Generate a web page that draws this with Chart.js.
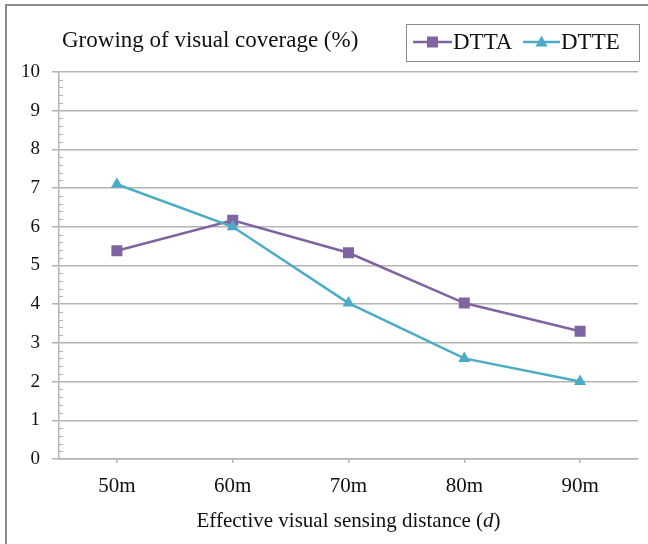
<!DOCTYPE html>
<html>
<head>
<meta charset="utf-8">
<script src="https://cdn.jsdelivr.net/npm/chart.js@4"></script>
<style>
  html, body { margin: 0; padding: 0; background: #ffffff; }
  #wrap { position: relative; width: 648px; height: 544px; overflow: hidden; }
  #chart { position: absolute; left: 0; top: 0; }
  #frame {
    position: absolute; left: 5px; top: 4px; right: -4px; bottom: -4px;
    border-left: 2px solid #8c8c8c; border-top: 2px solid #8c8c8c;
    pointer-events: none;
  }
</style>
</head>
<body>
<div id="wrap">
  <canvas id="chart" width="648" height="544"></canvas>
  <div id="frame"></div>
</div>
<script>
// Distances and coverage growth per method
const distances = ['50m', '60m', '70m', '80m', '90m'];
const dttaGrowth = [5.38, 6.17, 5.33, 4.03, 3.3];
const dtteGrowth = [7.1, 6.0, 4.03, 2.6, 2.0];
const yTicks = [0, 1, 2, 3, 4, 5, 6, 7, 8, 9, 10];

const chartTitle = 'Growing of visual coverage (%)';
// x axis title pieces: the variable name is set in italics
const xTitleParts = [
  { text: 'Effective visual sensing distance (', italic: false },
  { text: 'd', italic: true },
  { text: ')', italic: false }
];

const PURPLE = '#8064a2';
const CYAN = '#4bacc6';
const GRID = '#b4b4b4';
const SERIF = '"Liberation Serif", "Times New Roman", serif';

// Title, legend box, x axis title and minor y ticks
const decorations = {
  id: 'decorations',
  afterDraw(chart) {
    const ctx = chart.ctx;
    const y = chart.scales.y;
    const area = chart.chartArea;
    ctx.save();

    // minor ticks inside the plot area along the y axis
    ctx.strokeStyle = GRID;
    ctx.lineWidth = 1;
    for (let v = 0; v < 10; v += 0.2) {
      if (Math.abs(v - Math.round(v)) < 1e-6) continue;
      const py = Math.round(y.getPixelForValue(v)) + 0.5;
      ctx.beginPath();
      ctx.moveTo(area.left, py);
      ctx.lineTo(area.left + 4, py);
      ctx.stroke();
    }

    // chart title
    ctx.fillStyle = '#111111';
    ctx.font = '23px ' + SERIF;
    ctx.textBaseline = 'middle';
    ctx.textAlign = 'left';
    ctx.fillText(chartTitle, 62, 41);

    // x axis title, centred under the plot area
    const fontFor = p => (p.italic ? 'italic ' : '') + '21px ' + SERIF;
    let total = 0;
    xTitleParts.forEach(p => { ctx.font = fontFor(p); total += ctx.measureText(p.text).width; });
    let tx = (area.left + area.right) / 2 - total / 2;
    xTitleParts.forEach(p => {
      ctx.font = fontFor(p);
      ctx.fillText(p.text, tx, 521);
      tx += ctx.measureText(p.text).width;
    });

    // legend box
    ctx.strokeStyle = '#8c8c8c';
    ctx.lineWidth = 1;
    ctx.strokeRect(406.5, 24.5, 233, 37);

    const slots = [{ x0: 413, x1: 452, tx: 453 }, { x0: 523, x1: 560, tx: 561 }];
    chart.data.datasets.forEach((ds, i) => {
      const s = slots[i];
      const cy = 42;
      ctx.strokeStyle = ds.borderColor;
      ctx.lineWidth = 2.5;
      ctx.beginPath();
      ctx.moveTo(s.x0, cy);
      ctx.lineTo(s.x1, cy);
      ctx.stroke();
      const cx = (s.x0 + s.x1) / 2;
      ctx.fillStyle = ds.borderColor;
      ctx.beginPath();
      if (ds.pointStyle === 'rect') {
        ctx.rect(cx - 5.5, cy - 5.5, 11, 11);
      } else {
        ctx.moveTo(cx, cy - 6.5);
        ctx.lineTo(cx + 6, cy + 4.5);
        ctx.lineTo(cx - 6, cy + 4.5);
        ctx.closePath();
      }
      ctx.fill();
      ctx.fillStyle = '#111111';
      ctx.font = '23px ' + SERIF;
      ctx.fillText(ds.label, s.tx, cy + 1);
    });
    ctx.restore();
  }
};

new Chart(document.getElementById('chart'), {
  type: 'line',
  data: {
    labels: distances,
    datasets: [
      {
        label: 'DTTA',
        data: dttaGrowth,
        borderColor: PURPLE,
        backgroundColor: PURPLE,
        borderWidth: 2.5,
        pointStyle: 'rect',
        pointRadius: 7.8,
        pointBorderWidth: 0,
        tension: 0,
        order: 1
      },
      {
        label: 'DTTE',
        data: dtteGrowth,
        borderColor: CYAN,
        backgroundColor: CYAN,
        borderWidth: 2.5,
        pointStyle: 'triangle',
        pointRadius: 7,
        pointBorderWidth: 0,
        tension: 0,
        order: 0
      }
    ]
  },
  options: {
    responsive: false,
    animation: false,
    devicePixelRatio: 1,
    layout: { padding: { left: 0, right: 10, top: 72, bottom: 0 } },
    plugins: {
      legend: { display: false },
      title: { display: false },
      tooltip: { enabled: false }
    },
    scales: {
      x: {
        type: 'category',
        offset: true,
        grid: {
          offset: false,
          drawOnChartArea: false,
          drawTicks: true,
          tickLength: 4,
          color: GRID,
          lineWidth: 1.5
        },
        border: { color: GRID, width: 1.5 },
        ticks: {
          color: '#111111',
          font: { family: SERIF, size: 21 },
          padding: 11,
          maxRotation: 0
        },
        afterFit(scale) { scale.height = 85; }
      },
      y: {
        min: 0,
        max: 10,
        afterBuildTicks(scale) { scale.ticks = yTicks.map(v => ({ value: v })); },
        grid: {
          color: GRID,
          lineWidth: 1.5,
          drawTicks: true,
          tickLength: 7
        },
        border: { color: GRID, width: 1.5 },
        ticks: {
          color: '#111111',
          font: { family: SERIF, size: 19 },
          padding: 12
        },
        afterFit(scale) { scale.width = 59; }
      }
    }
  },
  plugins: [decorations]
});
</script>
</body>
</html>
